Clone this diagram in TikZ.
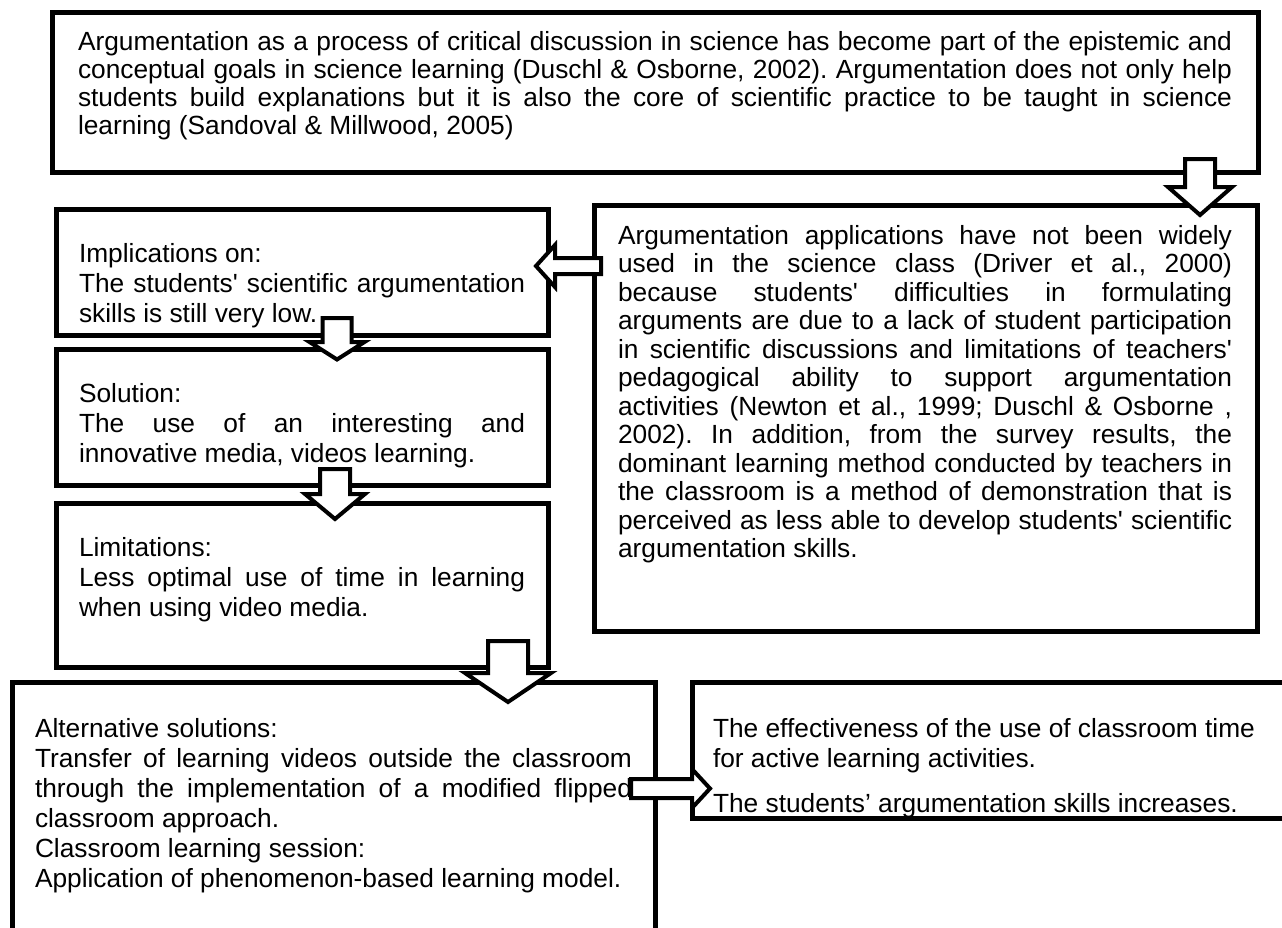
\documentclass[tikz,border=0pt]{standalone}
\usepackage{fontspec}
\setmainfont{Liberation Sans}
\frenchspacing
% straight apostrophe, as typed in the source document
\newcommand\sq{\textquotesingle}
% one fully justified line of a paragraph
\newcommand\jl[1]{\makebox[\linewidth][s]{#1}\\}
% a block of text: width, line distance, lines
\newcommand\para[3]{\parbox[t]{#1pt}{\fontsize{26.3pt}{#2pt}\selectfont #3}}
% block arrow pointing down: centre x, tail y, head base y, tip y, shaft half width, head half width
\newcommand\darrow[6]{%
  \draw[blockarrow] (#1-#5,#2) -- (#1+#5,#2) -- (#1+#5,#3) -- (#1+#6,#3) -- (#1,#4)
    -- (#1-#6,#3) -- (#1-#5,#3) -- cycle;}
% block arrow pointing sideways: centre y, tail x, head base x, tip x, shaft half height, head half height
\newcommand\harrow[6]{%
  \draw[blockarrow] (#2,#1-#5) -- (#3,#1-#5) -- (#3,#1-#6) -- (#4,#1) -- (#3,#1+#6)
    -- (#3,#1+#5) -- (#2,#1+#5) -- cycle;}
\begin{document}
\begin{tikzpicture}[x=1pt,y=-1pt,
  box/.style={draw, line width=5pt, inner sep=0pt, outer sep=0pt, anchor=north west},
  txt/.style={anchor=base west, inner sep=0pt, outer sep=0pt},
  blockarrow/.style={draw, fill=white, line width=4pt}]
\useasboundingbox (0,0) rectangle (1282,927);
\clip (0,0) rectangle (1282,927);

% frames
\node[box, minimum width=1205.5pt, minimum height=159.5pt] (intro)   at (52.5,12.5) {};
\node[box, minimum width=492pt,    minimum height=125.5pt] (impl)    at (56,209.5)  {};
\node[box, minimum width=492pt,    minimum height=136pt]   (sol)     at (56,349)    {};
\node[box, minimum width=492pt,    minimum height=164pt]   (lim)     at (56,503)    {};
\node[box, minimum width=663pt,    minimum height=426pt]   (context) at (594,205)   {};
\node[box, minimum width=642.5pt,  minimum height=300pt]   (alt)     at (12.5,682)  {};
\node[box, minimum width=650pt,    minimum height=136pt]   (outcome) at (692,682)   {};

% texts
\node[txt] (introtext) at (78,50) {\para{1154}{28.3}{%
\jl{Argumentation as a process of critical discussion in science has become part of the epistemic and}
\jl{conceptual goals in science learning (Duschl \& Osborne, 2002). Argumentation does not only help}
\jl{students build explanations but it is also the core of scientific practice to be taught in science}
learning (Sandoval \& Millwood, 2005)}};

\node[txt] (contexttext) at (618,244) {\para{614}{28.5}{%
\jl{Argumentation applications have not been widely}
\jl{used in the science class (Driver et al., 2000)}
\jl{because students\sq{} difficulties in formulating}
\jl{arguments are due to a lack of student participation}
\jl{in scientific discussions and limitations of teachers\sq}
\jl{pedagogical ability to support argumentation}
\jl{activities (Newton et al., 1999; Duschl \& Osborne ,}
\jl{2002). In addition, from the survey results, the}
\jl{dominant learning method conducted by teachers in}
\jl{the classroom is a method of demonstration that is}
\jl{perceived as less able to develop students\sq{} scientific}
argumentation skills.}};

\node[txt] (impltext) at (79,262) {\para{446}{30}{%
Implications on:\\
\jl{The students\sq{} scientific argumentation}
skills is still very low.}};

\node[txt] (soltext) at (79,402) {\para{446}{30}{%
Solution:\\
\jl{The use of an interesting and}
innovative media, videos learning.}};

\node[txt] (limtext) at (79,556) {\para{446}{30}{%
Limitations:\\
\jl{Less optimal use of time in learning}
when using video media.}};

\node[txt] (alttext) at (35,737) {\para{597}{30}{%
Alternative solutions:\\
\jl{Transfer of learning videos outside the classroom}
\jl{through the implementation of a modified flipped}
classroom approach.\\
Classroom learning session:\\
Application of phenomenon-based learning model.}};

\node[txt] (outcometext) at (713,737) {\para{560}{30}{%
The effectiveness of the use of classroom time\\
for active learning activities.\\[15pt]
The students’ argumentation skills increases.}};

% block arrows between the frames
\darrow{1200}{159}{187}{215}{15}{32}
\harrow{266}{601}{555}{536}{8}{21}
\darrow{337}{318}{342}{359.5}{14.5}{27.5}
\darrow{335}{469}{494}{519}{15}{30}
\darrow{508}{641}{673}{702}{20}{43}
\harrow{788.5}{631}{692}{710}{9.5}{19.5}
\end{tikzpicture}
\end{document}
